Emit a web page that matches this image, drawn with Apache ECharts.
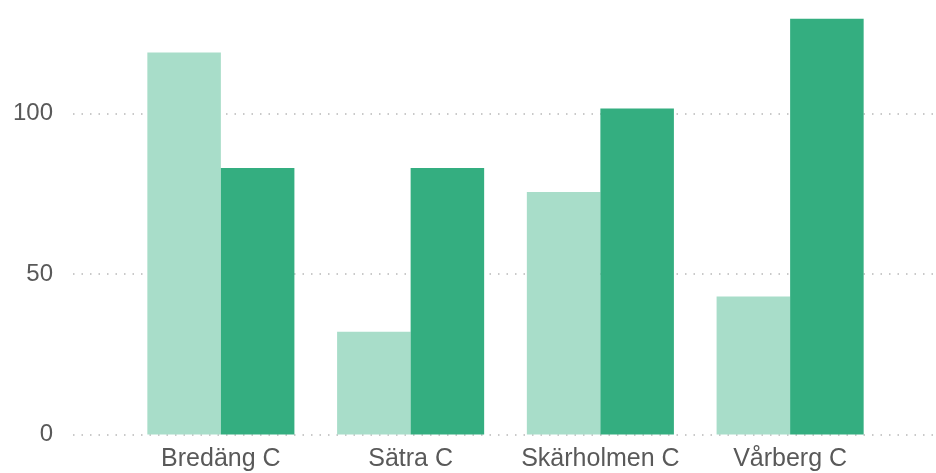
<!DOCTYPE html>
<html>
<head>
<meta charset="utf-8">
<script src="https://cdn.jsdelivr.net/npm/echarts@6/dist/echarts.min.js"></script>
<style>
  html, body { margin: 0; padding: 0; background: #fff; }
  #chart { width: 936px; height: 473px; }
</style>
</head>
<body>
<div id="chart"></div>
<script>
// data
var categories = ['Bredäng C', 'Sätra C', 'Skärholmen C', 'Vårberg C']
var seriesLight = [119, 32, 75.5, 43]
var seriesDark = [83, 83, 101.5, 129.5]
var yTicks = [0, 50, 100]

var chart = echarts.init(document.getElementById('chart'))

var font = 'Liberation Sans, Arial, sans-serif'
var textColor = '#595959'

chart.setOption({
  animation: false,
  grid: [
    // grid 0: dotted gridlines + y labels, wider than the bars
    { left: 73, right: 0, top: 1, bottom: 38.5 },
    // grid 1: the bars
    { left: 126, right: 51, top: 1, bottom: 38.5 }
  ],
  xAxis: [
    { gridIndex: 0, type: 'value', show: false, min: 0, max: 1 },
    {
      gridIndex: 1,
      type: 'category',
      data: categories,
      axisLine: { show: false },
      axisTick: { show: false },
      axisLabel: {
        interval: 0,
        color: textColor,
        fontSize: 25,
        fontFamily: font,
        margin: 12
      }
    }
  ],
  yAxis: [
    {
      gridIndex: 0,
      type: 'value',
      min: 0,
      max: 135,
      interval: 50,
      axisLine: { show: false },
      axisTick: { show: false },
      axisLabel: {
        color: textColor,
        fontSize: 24,
        fontFamily: font,
        margin: 20,
        showMaxLabel: false,
        formatter: function (v) {
          return yTicks.indexOf(v) >= 0 ? String(v) : ''
        }
      },
      splitLine: {
        show: true,
        showMaxLine: false,
        lineStyle: { color: '#b8b8b8', type: [1.5, 7], width: 1.5 }
      }
    },
    {
      gridIndex: 1,
      type: 'value',
      min: 0,
      max: 135,
      interval: 50,
      show: false,
      splitLine: { show: false }
    }
  ],
  series: [
    {
      type: 'bar',
      xAxisIndex: 1,
      yAxisIndex: 1,
      data: seriesLight,
      barGap: '0%',
      barCategoryGap: '22.5%',
      itemStyle: { color: '#a8ddc9' }
    },
    {
      type: 'bar',
      xAxisIndex: 1,
      yAxisIndex: 1,
      data: seriesDark,
      barGap: '0%',
      barCategoryGap: '22.5%',
      itemStyle: { color: '#34ae80' }
    }
  ]
})
</script>
</body>
</html>
